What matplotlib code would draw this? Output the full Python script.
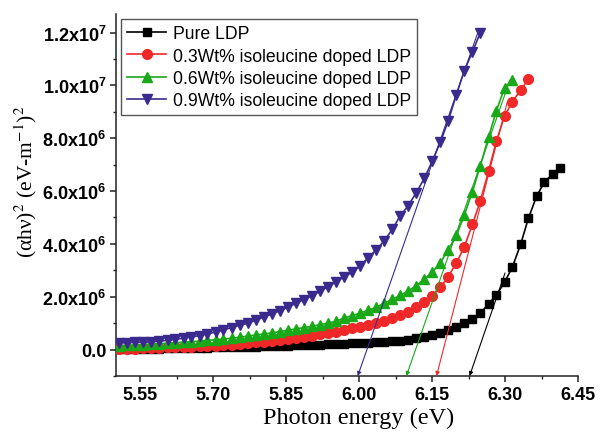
import matplotlib
matplotlib.use("Agg")
import matplotlib.pyplot as plt
from matplotlib.ticker import FixedLocator, FixedFormatter, MultipleLocator

plt.rcParams['mathtext.fontset'] = 'custom'
plt.rcParams['mathtext.rm'] = 'Liberation Sans:bold'
plt.rcParams['mathtext.bf'] = 'Liberation Sans:bold'
plt.rcParams['mathtext.it'] = 'Liberation Sans:bold'

# ---------------- data (y in units of 1e6) ----------------
energy = [5.507, 5.523, 5.540, 5.556, 5.573, 5.589, 5.606, 5.622, 5.639, 5.655,
          5.672, 5.688, 5.705, 5.721, 5.738, 5.754, 5.771, 5.787, 5.804, 5.820,
          5.837, 5.853, 5.870, 5.886, 5.903, 5.919, 5.936, 5.952, 5.969, 5.985,
          6.002, 6.018, 6.035, 6.051, 6.068, 6.084, 6.101, 6.117, 6.134, 6.150,
          6.167, 6.183, 6.200, 6.216, 6.233, 6.249, 6.266, 6.282, 6.299, 6.315,
          6.332, 6.348, 6.365, 6.381, 6.398, 6.414]

pure = [0.02, 0.02, 0.03, 0.03, 0.04, 0.04, 0.05, 0.05, 0.06, 0.06,
        0.07, 0.07, 0.08, 0.08, 0.09, 0.10, 0.10, 0.11, 0.12, 0.13,
        0.14, 0.15, 0.16, 0.17, 0.18, 0.19, 0.20, 0.21, 0.22, 0.24,
        0.25, 0.26, 0.27, 0.29, 0.31, 0.34, 0.38, 0.43, 0.49, 0.56,
        0.63, 0.73, 0.86, 0.99, 1.17, 1.38, 1.72, 2.06, 2.55, 3.12,
        3.98, 4.97, 5.81, 6.35, 6.64, 6.89]

wt03 = [0.03, 0.03, 0.04, 0.05, 0.06, 0.07, 0.08, 0.09, 0.10, 0.11,
        0.12, 0.14, 0.15, 0.17, 0.19, 0.22, 0.24, 0.27, 0.30, 0.33,
        0.37, 0.41, 0.45, 0.49, 0.53, 0.58, 0.63, 0.68, 0.74, 0.80,
        0.86, 0.93, 1.00, 1.09, 1.19, 1.31, 1.44, 1.60, 1.80, 2.04,
        2.35, 2.76, 3.28, 3.88, 4.74, 5.62, 6.74, 7.88, 8.84, 9.38,
        9.82, 10.23]

wt06 = [0.15, 0.16, 0.18, 0.19, 0.21, 0.22, 0.24, 0.26, 0.28, 0.30,
        0.32, 0.35, 0.37, 0.40, 0.43, 0.47, 0.51, 0.55, 0.59, 0.63,
        0.68, 0.73, 0.78, 0.83, 0.88, 0.94, 1.00, 1.07, 1.19, 1.28,
        1.38, 1.48, 1.60, 1.75, 1.90, 2.05, 2.22, 2.42, 2.66, 2.93,
        3.28, 3.78, 4.32, 5.08, 5.98, 6.95, 8.03, 9.03, 9.91, 10.19]

wt09 = [0.25, 0.26, 0.27, 0.28, 0.29, 0.32, 0.35, 0.39, 0.43, 0.48,
        0.53, 0.60, 0.66, 0.75, 0.83, 0.92, 1.00, 1.11, 1.23, 1.35,
        1.47, 1.60, 1.75, 1.89, 2.04, 2.20, 2.38, 2.56, 2.75, 2.92,
        3.18, 3.46, 3.78, 4.10, 4.55, 5.05, 5.45, 5.93, 6.48, 7.12,
        7.85, 8.65, 9.65, 10.55, 11.27, 11.99]

labels = ['Pure LDP',
          '0.3Wt% isoleucine doped LDP',
          '0.6Wt% isoleucine doped LDP',
          '0.9Wt% isoleucine doped LDP']

# tangent (extrapolation) lines: (E_top, y_top, E_bottom, y_bottom), y in 1e6
tangent_pure = (6.300, 2.90, 6.227, -1.0)
tangent_03 = (6.305, 9.40, 6.159, -1.0)
tangent_06 = (6.310, 10.20, 6.097, -1.0)
tangent_09 = (6.245, 12.05, 5.997, -1.0)

xticks = [5.55, 5.70, 5.85, 6.00, 6.15, 6.30, 6.45]
xticklabels = ['5.55', '5.70', '5.85', '6.00', '6.15', '6.30', '6.45']
yticks = [0, 2, 4, 6, 8, 10, 12]
yticklabels = ['0.0', '2.0x10$^{6}$', '4.0x10$^{6}$', '6.0x10$^{6}$',
               '8.0x10$^{6}$', '1.0x10$^{7}$', '1.2x10$^{7}$']

# ---------------- styles ----------------
c_black = '#000000'
c_red = '#f02828'
c_green = '#18a818'
c_purple = '#3b2a8e'

fig = plt.figure(figsize=(6.06, 4.35), dpi=100)
ax = fig.add_axes([0.1914, 0.1333, 0.7624, 0.8322])

S = 1e6
def scale(v):
    return [y * S for y in v]

lw = 1.2
ax.plot(energy[:len(pure)], scale(pure), '-s', color=c_black, lw=lw, ms=6.0,
        label=labels[0], zorder=3)
ax.plot(energy[:len(wt03)], scale(wt03), '-o', color=c_red, lw=lw, ms=7.0,
        label=labels[1], zorder=3)
ax.plot(energy[:len(wt06)], scale(wt06), '-^', color=c_green, lw=lw, ms=7.6,
        label=labels[2], zorder=3)
ax.plot(energy[:len(wt09)], scale(wt09), '-v', color=c_purple, lw=lw, ms=7.6,
        label=labels[3], zorder=3)

for t, col in [(tangent_pure, c_black), (tangent_03, c_red),
               (tangent_06, c_green), (tangent_09, c_purple)]:
    ax.annotate('', xy=(t[2], t[3] * S), xytext=(t[0], t[1] * S),
                arrowprops=dict(arrowstyle='-|>', color=col, lw=0.8,
                                mutation_scale=6, shrinkA=0, shrinkB=0),
                annotation_clip=False, zorder=4)

ax.set_xlim(5.50, 6.45)
ax.set_ylim(-1.0e6, 1.27e7)

ax.xaxis.set_major_locator(FixedLocator(xticks))
ax.xaxis.set_major_formatter(FixedFormatter(xticklabels))
ax.xaxis.set_minor_locator(MultipleLocator(0.075))
ax.yaxis.set_major_locator(FixedLocator([v * S for v in yticks]))
ax.yaxis.set_major_formatter(FixedFormatter(yticklabels))
ax.yaxis.set_minor_locator(MultipleLocator(1e6))

for s in ['top', 'right']:
    ax.spines[s].set_visible(False)
for s in ['left', 'bottom']:
    ax.spines[s].set_linewidth(1.1)
    ax.spines[s].set_color('#222222')

ax.tick_params(which='major', direction='out', length=4, width=1.1,
               color='#222222', pad=3)
ax.tick_params(which='minor', direction='out', length=2.5, width=1.0,
               color='#222222')
for lab in ax.get_xticklabels() + ax.get_yticklabels():
    lab.set_fontfamily('Liberation Sans')
    lab.set_fontweight('bold')
    lab.set_fontsize(13)

ax.set_xlabel('Photon energy (eV)', fontfamily='Liberation Serif',
              fontsize=17.5)
ax.xaxis.set_label_coords(0.525, -0.085)
ax.set_ylabel('(αhν)$^{2}$ (eV-m$^{-1}$)$^{2}$',
              fontfamily='Liberation Serif', fontsize=15.5,
              math_fontfamily='stix')
ax.yaxis.set_label_coords(-0.166, 0.54)

leg = ax.legend(loc='upper left', bbox_to_anchor=(0.011, 0.986),
                borderaxespad=0, prop={'family': 'Liberation Sans', 'size': 12.7},
                handlelength=2.2, handletextpad=0.4, labelspacing=0.3,
                borderpad=0.35, fancybox=False, framealpha=1)
leg.get_frame().set_edgecolor('#555555')
leg.get_frame().set_linewidth(1.0)

fig.savefig('out.png', dpi=100)
